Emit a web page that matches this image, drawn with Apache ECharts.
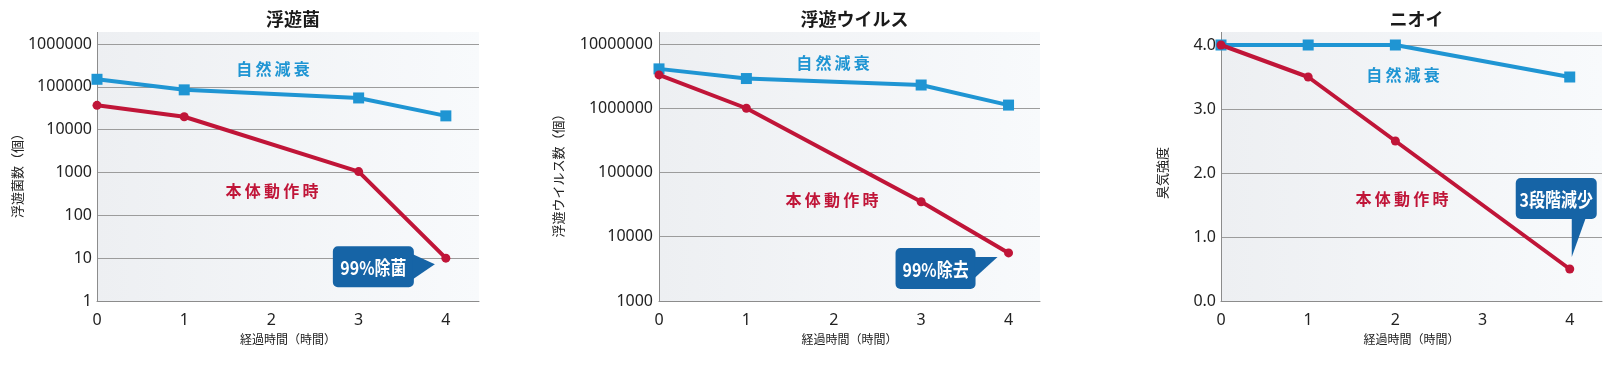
<!DOCTYPE html>
<html><head><meta charset="utf-8">
<script src="https://cdn.jsdelivr.net/npm/echarts@6/dist/echarts.min.js"></script>
<style>html,body{margin:0;padding:0;background:#fff}#c{width:1620px;height:366px}</style>
</head><body><div id="c"></div>
<script>
// ---- data ----
const titles = ['浮遊菌', '浮遊ウイルス', 'ニオイ'];
const yNames = ['浮遊菌数（個）', '浮遊ウイルス数（個）', '臭気強度'];
const xName = '経過時間（時間）';
const naturalLabel = '自然減衰';
const activeLabel = '本体動作時';
const callouts = ['99%除菌', '99%除去', '3段階減少'];
const xTicks = [0, 1, 2, 3, 4];

const bacteriaHours = [0, 1, 3, 4];
const bacteriaNatural = [150000, 85000, 55000, 21000];
const bacteriaActive = [37000, 20000, 1050, 10];

const virusHours = [0, 1, 3, 4];
const virusNatural = [4100000, 2900000, 2300000, 1120000];
const virusActive = [3300000, 1000000, 35000, 5600];

const odorHours = [0, 1, 2, 4];
const odorNatural = [4.0, 4.0, 4.0, 3.5];
const odorActive = [4.0, 3.5, 2.5, 0.5];

// ---- layout / style ----
const FONT = '"Noto Sans CJK JP", "Noto Sans", sans-serif';
const NUMFONT = '"Noto Sans", "Open Sans", sans-serif';
const BLUE = '#1f95d3';
const RED = '#c01538';
const NAVY = '#1664a6';
const grids = [
  {left: 97, top: 44, width: 382, height: 257, xmax: 4.38, nameGap: 60},
  {left: 659, top: 44, width: 381, height: 257, xmax: 4.36, nameGap: 94},
  {left: 1221, top: 45, width: 381, height: 256, xmax: 4.37, nameGap: 52}
];
const BG_TOP = 32;

const zip = (xs, ys) => xs.map((x, i) => [x, ys[i]]);
const sets = [
  {h: bacteriaHours, n: bacteriaNatural, a: bacteriaActive},
  {h: virusHours, n: virusNatural, a: virusActive},
  {h: odorHours, n: odorNatural, a: odorActive}
];

const chart = echarts.init(document.getElementById('c'));

const yLabel = {fontFamily: NUMFONT, fontSize: 16, color: '#222'};
const yName = {fontFamily: FONT, fontSize: 13, color: '#222'};
const split = {show: true, lineStyle: {color: '#9c9c9c', width: 1}};

const option = {
  backgroundColor: '#ffffff',
  animation: false,
  textStyle: {fontFamily: FONT},
  title: grids.map((g, i) => ({
    text: titles[i],
    left: g.left + g.width / 2,
    textAlign: 'center',
    top: 5,
    textStyle: {fontFamily: FONT, fontSize: 18, fontWeight: 'bold', color: '#1a1a1a'}
  })),
  grid: grids.map(g => ({left: g.left, top: g.top, width: g.width, height: g.height, containLabel: false})),
  xAxis: grids.map((g, i) => ({
    gridIndex: i, type: 'value', min: 0, max: g.xmax, interval: 1,
    name: xName, nameLocation: 'middle', nameGap: 32,
    nameTextStyle: {fontFamily: FONT, fontSize: 12, color: '#222'},
    axisLine: {show: true, lineStyle: {color: '#8c8c8c', width: 1}},
    axisTick: {show: false},
    splitLine: {show: false},
    axisLabel: {
      fontFamily: NUMFONT, fontSize: 16, color: '#222', margin: 11, showMaxLabel: false,
      formatter: v => (xTicks.indexOf(v) >= 0 ? String(v) : '')
    }
  })),
  yAxis: [
    {
      gridIndex: 0, type: 'log', logBase: 10, min: 1, max: 1000000,
      name: yNames[0], nameLocation: 'middle', nameGap: grids[0].nameGap, nameRotate: 90,
      nameTextStyle: yName, axisLine: {show: false}, axisTick: {show: false}, splitLine: split,
      axisLabel: Object.assign({margin: 5, formatter: v => String(Math.round(v))}, yLabel)
    },
    {
      gridIndex: 1, type: 'log', logBase: 10, min: 1000, max: 10000000,
      name: yNames[1], nameLocation: 'middle', nameGap: grids[1].nameGap, nameRotate: 90,
      nameTextStyle: yName, axisLine: {show: false}, axisTick: {show: false}, splitLine: split,
      axisLabel: Object.assign({margin: 6, formatter: v => String(Math.round(v))}, yLabel)
    },
    {
      gridIndex: 2, type: 'value', min: 0, max: 4, interval: 1,
      name: yNames[2], nameLocation: 'middle', nameGap: grids[2].nameGap, nameRotate: 90,
      nameTextStyle: yName, axisLine: {show: false}, axisTick: {show: false}, splitLine: split,
      axisLabel: Object.assign({margin: 5, formatter: v => v.toFixed(1)}, yLabel)
    }
  ],
  series: []
};

sets.forEach((s, i) => {
  option.series.push({
    type: 'line', xAxisIndex: i, yAxisIndex: i, name: naturalLabel,
    data: zip(s.h, s.n), symbol: 'rect', symbolSize: 11,
    lineStyle: {color: BLUE, width: 4}, itemStyle: {color: BLUE}, z: 3
  });
  option.series.push({
    type: 'line', xAxisIndex: i, yAxisIndex: i, name: activeLabel,
    data: zip(s.h, s.a), symbol: 'circle', symbolSize: 9,
    lineStyle: {color: RED, width: 4}, itemStyle: {color: RED}, z: 4
  });
});

chart.setOption(option);

// ---- decorations: background panels, labels, callouts ----
const gfx = [];
grids.forEach((g, i) => {
  gfx.push({
    type: 'rect', z: -10, silent: true,
    shape: {x: g.left, y: BG_TOP, width: g.width, height: g.top + g.height - BG_TOP},
    style: {fill: new echarts.graphic.LinearGradient(0, 0, 1, 0, [
      {offset: 0, color: '#edeff2'}, {offset: 1, color: '#f8fafc'}])}
  });
  gfx.push({
    type: 'line', z: 1, silent: true,
    shape: {x1: g.left + 0.5, y1: BG_TOP, x2: g.left + 0.5, y2: g.top + g.height},
    style: {stroke: '#8c8c8c', lineWidth: 1}
  });
});

const labelPos = [
  {n: [273, 69], a: [272, 191]},
  {n: [833, 63], a: [832, 200]},
  {n: [1403, 75], a: [1402, 199]}
];
const thin = s => s.split('').join('\u2009');
labelPos.forEach(p => {
  gfx.push({type: 'text', z: 20, x: p.n[0], y: p.n[1], style: {
    text: thin(naturalLabel), fill: BLUE, font: 'bold 16px ' + FONT, textAlign: 'center', textVerticalAlign: 'middle'}});
  gfx.push({type: 'text', z: 20, x: p.a[0], y: p.a[1], style: {
    text: thin(activeLabel), fill: RED, font: 'bold 16px ' + FONT, textAlign: 'center', textVerticalAlign: 'middle'}});
});

// callouts anchored to last active points
const last = i => {
  const s = sets[i];
  const k = s.h.length - 1;
  return chart.convertToPixel({gridIndex: i}, [s.h[k], s.a[k]]);
};
function box(x, y, w, h, text) {
  gfx.push({type: 'rect', z: 30, shape: {x: x, y: y, width: w, height: h, r: 5}, style: {fill: NAVY}});
  gfx.push({type: 'text', z: 31, x: x + w / 2, y: y + h / 2 + 1, scaleX: 0.84, style: {
    text: text, fill: '#fff', font: 'bold 19px ' + FONT, textAlign: 'center', textVerticalAlign: 'middle'}});
}
function tri(pts) {
  gfx.push({type: 'polygon', z: 30, shape: {points: pts}, style: {fill: NAVY}});
}
{
  const p = last(0);
  const bx = p[0] - 113, by = p[1] - 12;
  box(bx, by, 81, 41, callouts[0]);
  tri([[bx + 80, by + 8], [p[0] - 11, by + 18], [bx + 80, by + 33]]);
}
{
  const p = last(1);
  const bx = p[0] - 113, by = p[1] - 5;
  box(bx, by, 80, 41, callouts[1]);
  tri([[bx + 79, by + 9], [p[0] - 11, by + 9], [bx + 79, by + 30]]);
}
{
  const p = last(2);
  const bx = p[0] - 54, by = p[1] - 91;
  box(bx, by, 81, 41, callouts[2]);
  tri([[p[0] + 2, by + 40], [p[0] + 16, by + 40], [p[0] + 2, p[1] - 12]]);
}

chart.setOption({graphic: gfx});
</script>
</body></html>
